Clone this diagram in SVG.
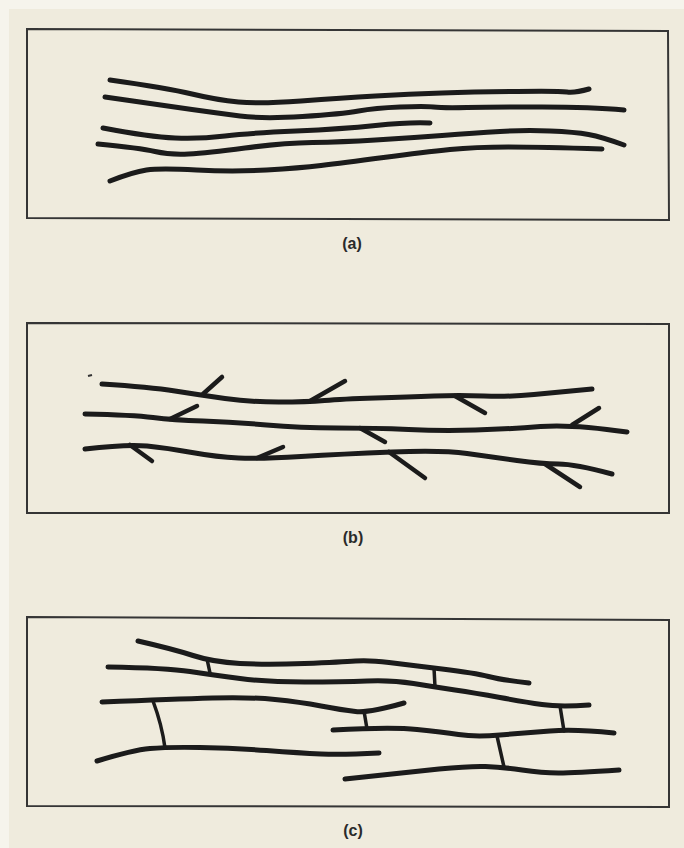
<svg xmlns="http://www.w3.org/2000/svg" width="684" height="848" viewBox="0 0 684 848">
<style>
.bg{fill:#efebdd}
.frame{fill:none;stroke:#353535;stroke-width:2;stroke-linejoin:miter}
.chain{fill:none;stroke:#1b1b1b;stroke-width:5;stroke-linecap:round;stroke-linejoin:round}
.branch{fill:none;stroke:#1b1b1b;stroke-width:4.5;stroke-linecap:round}
.link{fill:none;stroke:#1b1b1b;stroke-width:3.5;stroke-linecap:round}
.lbl{font-family:"Liberation Sans","Arial",sans-serif;font-size:16px;font-weight:bold;fill:#2a2a2a;text-anchor:middle}
</style>
<rect class="bg" x="0" y="0" width="684" height="848"/>
<rect x="0" y="0" width="9" height="848" fill="#f6f4ec"/>
<rect x="0" y="0" width="684" height="9" fill="#f6f4ec"/>

<g id="panel-a">
<polygon class="frame" points="27,29 668,31 669,220 27,218"/>
<path class="chain" d="M110,80 Q167,88 192,94 Q217,100 238.5,102 Q260,104 301,101 Q342,98 375.5,96 Q409,94 442,93 Q475,92 517,91.5 Q559,91 567,92 Q575,93 589,89"/>
<path class="chain" d="M105,97 Q167,106 192,109.5 Q217,113 240,116 Q263,119 302.5,116.5 Q342,114 358.5,111 Q375,108 400,107 Q425,106 433.5,107 Q442,108 467,107.5 Q492,107 542,107 Q592,107 624,110"/>
<path class="chain" d="M103,128 Q150,137 175,138 Q200,139 225,136 Q250,133 296,131 Q342,129 375.5,125.5 Q409,122 430,123"/>
<path class="chain" d="M98,144 Q140,148 155,151.5 Q170,155 188.5,154 Q207,153 245,148 Q283,143 312.5,142.5 Q342,142 375.5,140 Q409,138 442,135.5 Q475,133 500,131.5 Q525,130 550,131 Q575,132 588.5,134.5 Q602,137 624,145"/>
<path class="chain" d="M110,181 Q133,172 146.5,170 Q160,168 196.5,170 Q233,172 266.5,170 Q300,168 321,165.5 Q342,163 383.5,157.5 Q425,152 450,149.5 Q475,147 508.5,147 Q542,147 602,149"/>
<text class="lbl" x="352" y="249">(a)</text>
</g>

<g id="panel-b">
<polygon class="frame" points="27,323 669,324 669,513 27,513"/>
<line x1="88" y1="376" x2="92" y2="375" stroke="#333" stroke-width="2"/>
<path class="chain" d="M102,384 Q150,387 175,391 Q200,395 225,398.5 Q250,402 278.5,402 Q307,402 324.5,400.5 Q342,399 375.5,398 Q409,397 434,396 Q459,395 484,396 Q509,397 534,394.5 Q559,392 592,389"/>
<path class="chain" d="M85,414 Q133,415 153,417.5 Q173,420 203,421 Q233,422 266.5,425 Q300,428 337.5,428 Q375,428 408.5,429.5 Q442,431 475.5,430 Q509,429 540.5,426.5 Q572,424 627,432"/>
<path class="chain" d="M85,449 Q127,444 147,446 Q167,448 192,452.5 Q217,457 238.5,458 Q260,459 301,456.5 Q342,454 392,452 Q442,450 467,453.5 Q492,457 517,460.5 Q542,464 558.5,464 Q575,464 612,474"/>
<g id="branches-b">
<line class="branch" x1="203" y1="394" x2="222" y2="377"/>
<line class="branch" x1="310" y1="401" x2="345" y2="381"/>
<line class="branch" x1="455" y1="396" x2="485" y2="413"/>
<line class="branch" x1="170" y1="419" x2="197" y2="406"/>
<line class="branch" x1="360" y1="428" x2="385" y2="442"/>
<line class="branch" x1="572" y1="425" x2="599" y2="408"/>
<line class="branch" x1="130" y1="445" x2="152" y2="461"/>
<line class="branch" x1="257" y1="458" x2="283" y2="447"/>
<line class="branch" x1="389" y1="452" x2="425" y2="478"/>
<line class="branch" x1="545" y1="464" x2="580" y2="487"/>
</g>
<text class="lbl" x="353" y="543">(b)</text>
</g>

<g id="panel-c">
<polygon class="frame" points="27,617 669,620 669,807 27,806"/>
<path class="chain" d="M138,641 Q173,649 193,655.5 Q213,662 240,663.5 Q267,665 304.5,663.5 Q342,662 355.5,661 Q369,660 389,662.5 Q409,665 442,669 Q475,673 488.5,676.5 Q502,680 529,683"/>
<path class="chain" d="M108,667 Q167,668 190,671.5 Q213,675 240,678.5 Q267,682 304.5,682 Q342,682 367,681 Q392,680 413.5,683.5 Q435,687 455,690 Q475,693 500,697.5 Q525,702 542,704.5 Q559,707 589,705"/>
<path class="chain" d="M102,702 Q175,699 212.5,698 Q250,697 275,699.5 Q300,702 321,706 Q342,710 355.5,711.5 Q369,713 404,703"/>
<path class="chain" d="M333,730 Q392,727 417,729.5 Q442,732 458.5,734.5 Q475,737 500,735 Q525,733 550,731 Q575,729 614,733"/>
<path class="chain" d="M97,761 Q133,750 150,748.5 Q167,747 200,747.5 Q233,748 266.5,750.5 Q300,753 321,754 Q342,755 379,753"/>
<path class="chain" d="M345,779 Q409,772 439,769 Q469,766 485.5,766.5 Q502,767 522,770 Q542,773 558.5,773 Q575,773 619,770"/>
<g id="crosslinks-c">
<line class="link" x1="207" y1="659" x2="210" y2="673"/>
<line class="link" x1="434" y1="668" x2="435" y2="687"/>
<path class="link" d="M153,701 Q162,725 165,748"/>
<line class="link" x1="364" y1="711" x2="367" y2="729"/>
<line class="link" x1="560" y1="706" x2="564" y2="731"/>
<line class="link" x1="497" y1="736" x2="504" y2="767"/>
</g>
<text class="lbl" x="353" y="836">(c)</text>
</g>
</svg>
